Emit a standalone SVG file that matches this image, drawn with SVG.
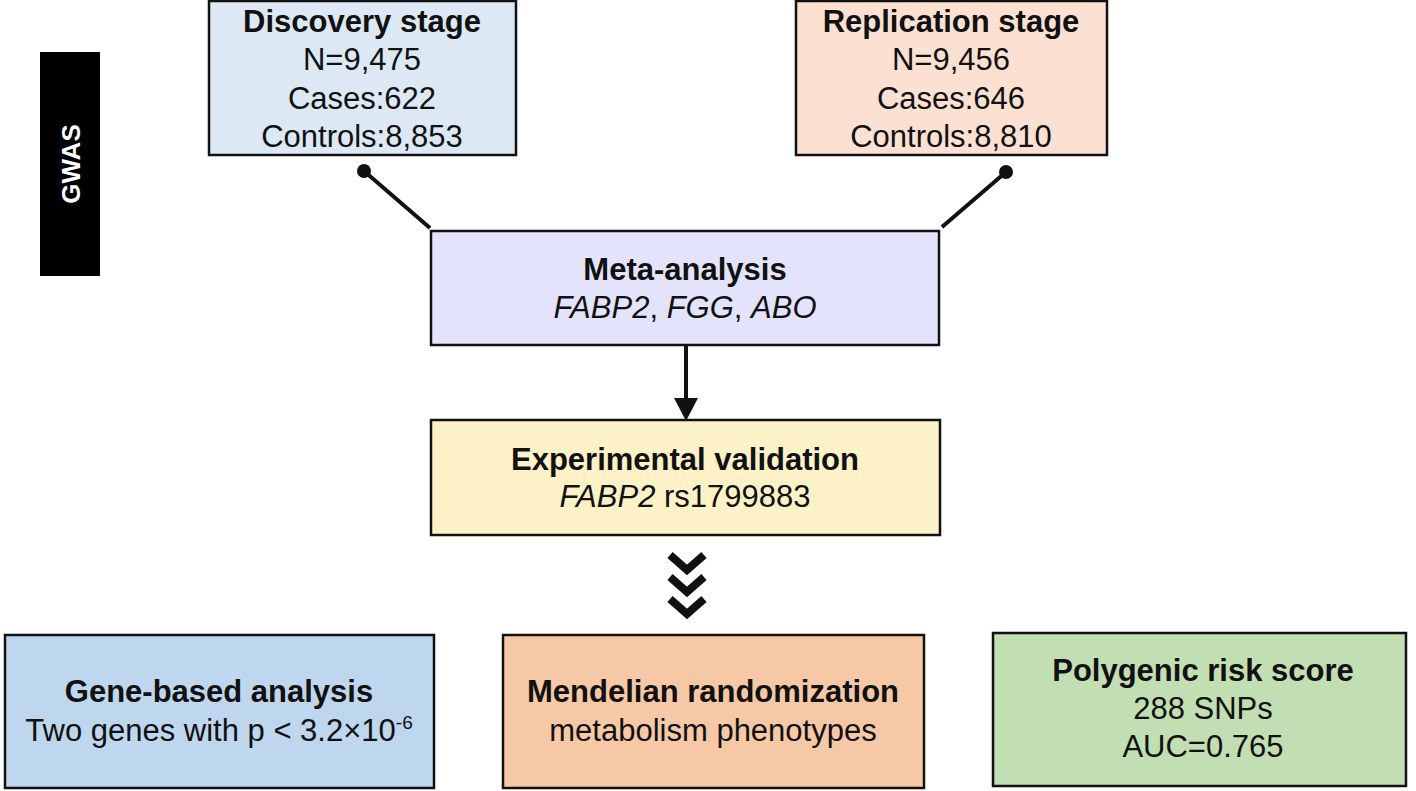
<svg xmlns="http://www.w3.org/2000/svg" width="1416" height="791" viewBox="0 0 1416 791">
<style>
text{font-family:"Liberation Sans",Arial,sans-serif;font-size:31px;fill:#111;text-anchor:middle}
.b{font-weight:bold}
.i{font-style:italic}
rect.n{stroke:#111;stroke-width:2.5}
.c{stroke:#111;stroke-width:4;fill:none}
</style>
<rect width="1416" height="791" fill="#fff"/>
<g id="gwas"><rect x="40" y="52" width="60" height="224" fill="#000"/>
<text transform="translate(80,164) rotate(-90)" style="fill:#fff;font-weight:bold;font-size:26px">GWAS</text></g>
<g id="discovery"><rect class="n" x="209" y="1" width="307" height="154" fill="#dce9f5"/>
<text x="362" y="32" class="b">Discovery stage</text><text x="362" y="70">N=9,475</text><text x="362" y="109">Cases:622</text><text x="362" y="147">Controls:8,853</text></g>
<g id="replication"><rect class="n" x="796" y="1" width="311" height="154" fill="#fce1d3"/>
<text x="951" y="32" class="b">Replication stage</text><text x="951" y="70">N=9,456</text><text x="951" y="109">Cases:646</text><text x="951" y="147">Controls:8,810</text></g>
<g id="meta"><rect class="n" x="431" y="231" width="508" height="114" fill="#e3e3fb"/>
<text x="685" y="280" class="b">Meta-analysis</text><text x="685" y="318"><tspan class="i">FABP2</tspan>, <tspan class="i">FGG</tspan>, <tspan class="i">ABO</tspan></text></g>
<g id="experimental"><rect class="n" x="431" y="420" width="509" height="115" fill="#fcf1c7"/>
<text x="685" y="470" class="b">Experimental validation</text><text x="685" y="507"><tspan class="i">FABP2</tspan> rs1799883</text></g>
<g id="gene"><rect class="n" x="5" y="635" width="429" height="153" fill="#bed6ee"/>
<text x="219" y="702" class="b">Gene-based analysis</text><text x="219" y="741">Two genes with p &lt; 3.2×10<tspan dy="-12" style="font-size:19px">-6</tspan></text></g>
<g id="mendelian"><rect class="n" x="503" y="635" width="421" height="153" fill="#f7c8a6"/>
<text x="713" y="702" class="b">Mendelian randomization</text><text x="713" y="741">metabolism phenotypes</text></g>
<g id="prs"><rect class="n" x="993" y="633" width="413" height="153" fill="#c2deb3"/>
<text x="1203" y="681" class="b">Polygenic risk score</text><text x="1203" y="719">288 SNPs</text><text x="1203" y="757">AUC=0.765</text></g>
<g id="connectors">
<circle cx="364" cy="171" r="7" fill="#111"/><line class="c" x1="364" y1="171" x2="430" y2="228"/>
<circle cx="1006" cy="172" r="7" fill="#111"/><line class="c" x1="1006" y1="172" x2="942" y2="227"/>
<line class="c" x1="686" y1="345" x2="686" y2="400"/><polygon points="674,398 698,398 686,421" fill="#111"/>
<g class="c" style="stroke-width:8;stroke-linecap:butt;stroke-linejoin:miter">
<polyline points="670,555 687,570 704,555"/><polyline points="670,577 687,592 704,577"/><polyline points="670,599 687,614 704,599"/>
</g>
</g>
</svg>
